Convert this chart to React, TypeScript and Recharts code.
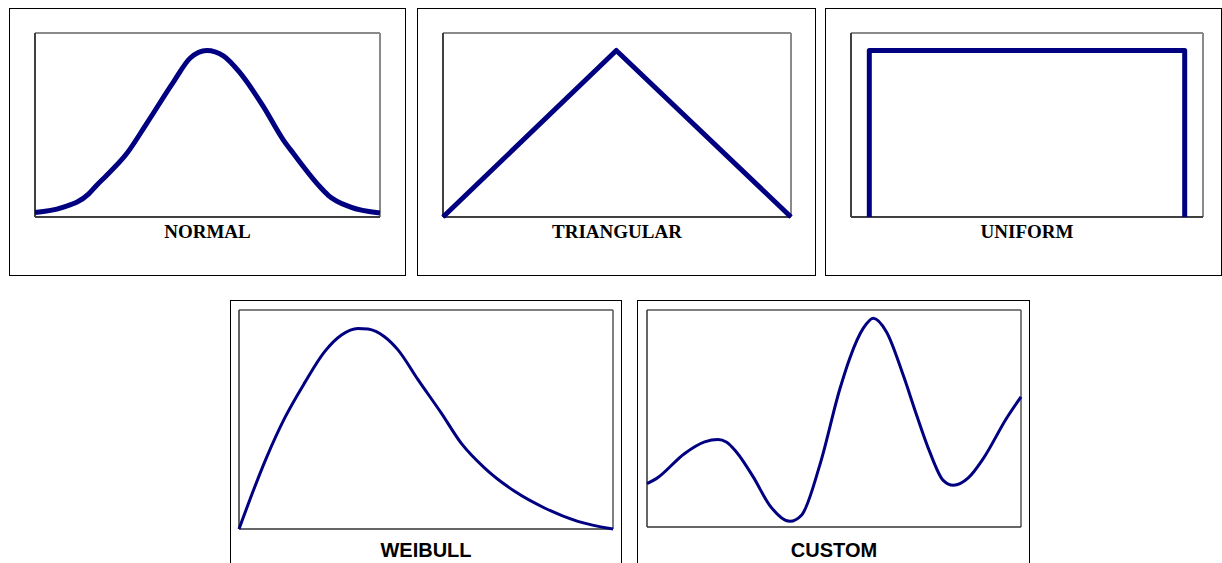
import { Line, LineChart, ReferenceLine, XAxis, YAxis } from "recharts"

// values, 0..100 in both directions of each plot
const normalX = [0, 7.8, 15.5, 17.9, 20.8, 26.6, 32.4, 40.2, 45, 49.8, 54.6, 59.5, 66.2, 72, 74.9, 82.6, 85, 91.3, 100]
const normalY = [2.4, 5.1, 12.4, 17.3, 22.7, 34.5, 50.9, 73.6, 86.4, 90.5, 87.6, 78.2, 60, 41.8, 34.5, 16.4, 11.8, 5.5, 2.2]

const triangularX = [0, 49.8, 100]
const triangularY = [0, 90.5, 0]

const uniformX = [5.2, 5.2, 94.8, 94.8]
const uniformY = [0, 90.5, 90.5, 0]

const weibullX = [0, 7.3, 12.2, 17.5, 22.9, 27.4, 31.8, 34.5, 38.9, 42.5, 47.9, 54.1, 59.4, 65.7, 73.7, 81.7, 90.6, 100]
const weibullY = [0, 32.4, 50.6, 66.6, 81, 88.6, 91.6, 91.3, 87.8, 81.8, 68.1, 52.9, 39.2, 27.8, 17.2, 9.6, 3.5, 0]

const customX = [0, 2.5, 10, 15.4, 19, 21.2, 23.9, 28.4, 32.8, 38.2, 41.3, 46.2, 51.6, 54.2, 57.8, 60.5, 64, 68.5, 72.1, 75.6, 79.2, 81.9, 85.9, 89.9, 96.1, 100]
const customY = [20, 22.3, 33.8, 39.2, 40.3, 39.2, 34.6, 23.1, 10, 2.6, 5.4, 28.5, 63.8, 77.7, 91.5, 96.2, 90, 70, 51.5, 34.6, 21.5, 19.2, 22.6, 31.5, 50, 60]

const labels = ["NORMAL", "TRIANGULAR", "UNIFORM", "WEIBULL", "CUSTOM"]

const toData = (xs: number[], ys: number[]) => xs.map((x, i) => ({ x, y: ys[i] }))

type Box = { left: number; top: number; width: number; height: number }

type PanelProps = {
  box: Box
  plot: Box
  labelY: number
  label: string
  data: { x: number; y: number }[]
  curve: "monotone" | "linear"
  serif: boolean
}

const PAD = 6

function Panel({ box, plot, labelY, label, data, curve, serif }: PanelProps) {
  const thick = serif
  const frameTop = thick ? "#8a8a8a" : "#555"
  const frameBottom = thick ? "#404040" : "#333"
  const fw = thick ? 2 : 1.5
  return (
    <>
      <div
        style={{
          position: "absolute",
          left: box.left,
          top: box.top,
          width: box.width,
          height: box.height,
          border: "1px solid #000",
          boxSizing: "border-box",
        }}
      />
      <div style={{ position: "absolute", left: plot.left - PAD, top: plot.top - PAD }}>
        <LineChart
          width={plot.width + PAD * 2}
          height={plot.height + PAD * 2}
          data={data}
          margin={{ top: PAD, right: PAD, bottom: PAD, left: PAD }}
        >
          <XAxis dataKey="x" type="number" domain={[0, 100]} hide />
          <YAxis type="number" domain={[0, 100]} hide />
          {/* plot frame */}
          <ReferenceLine y={100} stroke={frameTop} strokeWidth={fw} />
          <ReferenceLine x={100} stroke={frameTop} strokeWidth={fw} />
          <ReferenceLine x={0} stroke={frameBottom} strokeWidth={fw} />
          <ReferenceLine y={0} stroke={frameBottom} strokeWidth={fw} />
          <Line
            dataKey="y"
            type={curve}
            stroke="#000080"
            strokeWidth={thick ? 5 : 3}
            strokeLinejoin="round"
            dot={false}
            activeDot={false}
            isAnimationActive={false}
          />
        </LineChart>
      </div>
      <div
        style={{
          position: "absolute",
          left: plot.left,
          width: plot.width,
          top: labelY - 12,
          height: 24,
          lineHeight: "24px",
          textAlign: "center",
          fontWeight: "bold",
          color: "#000",
          fontFamily: serif ? "'Liberation Serif', 'Times New Roman', serif" : "'Liberation Sans', Arial, sans-serif",
          fontSize: serif ? 19 : 20,
        }}
      >
        {label}
      </div>
    </>
  )
}

export default function App() {
  return (
    <div style={{ position: "absolute", left: 0, top: 0, width: 1222, height: 563, background: "#fff", overflow: "hidden" }}>
      <Panel
        box={{ left: 9, top: 8, width: 397, height: 268 }}
        plot={{ left: 35, top: 33, width: 345, height: 184 }}
        labelY={232}
        label={labels[0]}
        data={toData(normalX, normalY)}
        curve="monotone"
        serif
      />
      <Panel
        box={{ left: 417, top: 8, width: 399, height: 268 }}
        plot={{ left: 443, top: 33, width: 348, height: 184 }}
        labelY={232}
        label={labels[1]}
        data={toData(triangularX, triangularY)}
        curve="linear"
        serif
      />
      <Panel
        box={{ left: 825, top: 8, width: 397, height: 268 }}
        plot={{ left: 851, top: 33, width: 352, height: 184 }}
        labelY={232}
        label={labels[2]}
        data={toData(uniformX, uniformY)}
        curve="linear"
        serif
      />
      <Panel
        box={{ left: 230, top: 300, width: 392, height: 280 }}
        plot={{ left: 239, top: 310, width: 374, height: 219 }}
        labelY={550}
        label={labels[3]}
        data={toData(weibullX, weibullY)}
        curve="monotone"
        serif={false}
      />
      <Panel
        box={{ left: 637, top: 300, width: 393, height: 280 }}
        plot={{ left: 647, top: 310, width: 374, height: 217 }}
        labelY={550}
        label={labels[4]}
        data={toData(customX, customY)}
        curve="monotone"
        serif={false}
      />
    </div>
  )
}
